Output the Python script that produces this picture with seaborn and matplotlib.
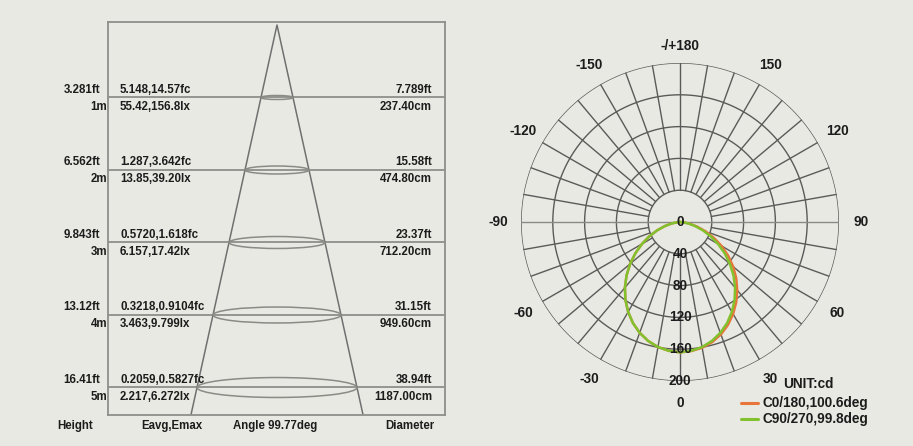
import numpy as np
import pandas as pd
import matplotlib
matplotlib.use("Agg")
import matplotlib.pyplot as plt
import matplotlib.transforms as mtransforms
from matplotlib.patches import Ellipse
import seaborn as sns

# ---------------- data ----------------
heights_m = [1, 2, 3, 4, 5]
height_labels = ["1m", "2m", "3m", "4m", "5m"]
height_ft = ["3.281ft", "6.562ft", "9.843ft", "13.12ft", "16.41ft"]
e_fc = ["5.148,14.57fc", "1.287,3.642fc", "0.5720,1.618fc", "0.3218,0.9104fc", "0.2059,0.5827fc"]
e_lx = ["55.42,156.8lx", "13.85,39.20lx", "6.157,17.42lx", "3.463,9.799lx", "2.217,6.272lx"]
diam_ft = ["7.789ft", "15.58ft", "23.37ft", "31.15ft", "38.94ft"]
diam_cm = [237.40, 474.80, 712.20, 949.60, 1187.00]
beam_angle = 99.77
column_titles = ["Height", "Eavg,Emax", "Angle 99.77deg", "Diameter"]

polar_angles = [-90, -85, -80, -75, -70, -65, -60, -55, -50, -45, -40, -35, -30, -25, -20, -15, -10, -5,
                0, 5, 10, 15, 20, 25, 30, 35, 40, 45, 50, 55, 60, 65, 70, 75, 80, 85, 90]
c0_180 = [0, 3.6, 10.5, 19.7, 30.4, 42.5, 55.2, 68.5, 81.9, 95.1, 107.8, 119.7, 130.5, 140.2, 148.3, 154.9, 159.7, 162.6,
          164, 163.0, 160.6, 156.4, 150.5, 142.8, 133.6, 123.3, 112.0, 100.0, 87.3, 74.0, 60.4, 47.0, 34.0, 22.3, 12.2, 4.2, 0]
c90_270 = [0, 3.6, 10.5, 19.7, 30.4, 42.5, 55.2, 68.5, 81.9, 95.1, 107.8, 119.7, 130.5, 140.2, 148.3, 154.9, 159.7, 162.6,
           164, 162.6, 159.7, 154.9, 148.3, 140.2, 130.5, 119.7, 107.8, 95.1, 81.9, 68.5, 55.2, 42.5, 30.4, 19.7, 10.5, 3.6, 0]
ring_values = [40, 80, 120, 160, 200]
angle_label_values = [0, 30, 60, 90, 120, 150, 180, -150, -120, -90, -60, -30]
angle_label_texts = ["0", "30", "60", "90", "120", "150", "-/+180", "-150", "-120", "-90", "-60", "-30"]
legend_labels = ["C0/180,100.6deg", "C90/270,99.8deg"]
unit_label = "UNIT:cd"

# ---------------- style ----------------
sns.set_theme(style="white")
BG = "#e9e9e4"
plt.rcParams["font.family"] = ["Liberation Sans Narrow", "Liberation Sans", "DejaVu Sans"]
plt.rcParams["axes.facecolor"] = BG
plt.rcParams["figure.facecolor"] = BG
TXT = "#1c1c1c"
LINE = "#8e8e8a"
GRID = "#5a5a58"
ORANGE = "#e8763a"
GREEN = "#82c12e"

W, H = 913, 446
fig = plt.figure(figsize=(W / 100, H / 100), dpi=100)

# ---------------- left panel ----------------
bx0, bx1, by0, by1 = 108, 445, 22, 415
axL = fig.add_axes([bx0 / W, (H - by1) / H, (bx1 - bx0) / W, (by1 - by0) / H])
axL.set_facecolor(BG)
half_d = [d / 200.0 for d in diam_cm]  # half diameter in m
px_per_m_y = 72.5
apex_py = 25
px_per_m_x = 80 / half_d[-1]
apex_px = 277
axL.set_xlim((bx0 - apex_px) / px_per_m_x, (bx1 - apex_px) / px_per_m_x)
y_top = (by0 - apex_py) / px_per_m_y
y_bot = (by1 - apex_py) / px_per_m_y
axL.set_ylim(y_bot, y_top)
axL.set_xticks([]); axL.set_yticks([])
for s in axL.spines.values():
    s.set_color(LINE); s.set_linewidth(1.3); s.set_visible(True)

slope = half_d[-1] / heights_m[-1]
cone = pd.DataFrame({"x": [-slope * y_bot, 0, slope * y_bot], "y": [y_bot, 0, y_bot]})
sns.lineplot(data=cone, x="x", y="y", sort=False, ax=axL, color="#707070", lw=1.1, estimator=None)
axL.set_xlabel(""); axL.set_ylabel("")

for h, hd in zip(heights_m, half_d):
    axL.axhline(h, color=LINE, lw=1.3, zorder=1)
    axL.add_patch(Ellipse((0, h), 2 * hd, 0.055 * h, fill=False, ec="#8a8a86", lw=1.1, zorder=2))

trL = mtransforms.blended_transform_factory(axL.transAxes, axL.transData)
fsL = 8.3
for h, hl, hf, fc, lx, dft, dcm in zip(heights_m, height_labels, height_ft, e_fc, e_lx, diam_ft, diam_cm):
    yu = h - 0.105
    yd = h + 0.125
    kw = dict(transform=trL, fontsize=fsL, color=TXT, va="center", clip_on=False, fontweight="bold")
    axL.text((100 - bx0) / (bx1 - bx0), yu, hf, ha="right", **kw)
    axL.text((107 - bx0) / (bx1 - bx0), yd, hl, ha="right", **kw)
    axL.text((120 - bx0) / (bx1 - bx0), yu, fc, ha="left", **kw)
    axL.text((120 - bx0) / (bx1 - bx0), yd, lx, ha="left", **kw)
    axL.text((432 - bx0) / (bx1 - bx0), yu, dft, ha="right", **kw)
    axL.text((432 - bx0) / (bx1 - bx0), yd, f"{dcm:.2f}cm", ha="right", **kw)

ytitle = (426 - apex_py) / px_per_m_y
for xc, t in zip([75, 172, 275, 410], column_titles):
    axL.text((xc - bx0) / (bx1 - bx0), ytitle, t, transform=trL, ha="center", va="center",
             fontsize=fsL, color=TXT, clip_on=False, fontweight="bold")

# ---------------- polar panel ----------------
cx, cy, R = 680, 222, 159
axP = fig.add_axes([(cx - R) / W, (H - cy - R) / H, 2 * R / W, 2 * R / H], projection="polar")
axP.set_theta_zero_location("S")
axP.set_theta_direction(1)
axP.set_ylim(0, 200)
axP.axis("off")

full = np.linspace(0, 2 * np.pi, 361)
for rv in ring_values:
    axP.plot(full, np.full_like(full, rv), color=GRID, lw=1.0, zorder=2)
for a in range(0, 360, 10):
    if a in (90, 270):
        continue
    t = np.deg2rad(a)
    axP.plot([t, t], [ring_values[0], ring_values[-1]], color=GRID, lw=1.0, zorder=2)
axP.plot([np.deg2rad(-90), np.deg2rad(-90)], [0, 200], color="#8a8a86", lw=1.0, zorder=2)
axP.plot([np.deg2rad(90), np.deg2rad(90)], [0, 200], color="#8a8a86", lw=1.0, zorder=2)

curves = pd.DataFrame({
    "theta": np.deg2rad(polar_angles * 2),
    "r": c0_180 + c90_270,
    "plane": [legend_labels[0]] * len(polar_angles) + [legend_labels[1]] * len(polar_angles),
})
sns.lineplot(data=curves, x="theta", y="r", hue="plane", palette=[ORANGE, GREEN], sort=False,
             estimator=None, lw=1.8, ax=axP, legend=False, zorder=4)

fsP = 9.8
for av, at in zip(angle_label_values, angle_label_texts):
    rr = 222 if av == 180 else 228
    axP.text(np.deg2rad(av), rr, at, ha="center", va="center", fontsize=fsP, color=TXT,
             clip_on=False, fontweight="bold")
axP.text(0, 0, "0", ha="center", va="center", fontsize=fsP, color=TXT, fontweight="bold", zorder=5)
for rv in ring_values:
    axP.text(0, rv, str(rv), ha="center", va="center", fontsize=fsP, color=TXT, fontweight="bold", zorder=5)

# legend
fig.text(783 / W, 1 - 384 / H, unit_label, ha="left", va="center", fontsize=fsP, color=TXT, fontweight="bold")
for i, (lab, col) in enumerate(zip(legend_labels, [ORANGE, GREEN])):
    yy = 1 - (403 + 16 * i) / H
    fig.add_artist(plt.Line2D([741 / W, 758 / W], [yy, yy], color=col, lw=2.2))
    fig.text(762 / W, yy, lab, ha="left", va="center", fontsize=fsP, color=TXT, fontweight="bold")

fig.savefig("out.png", dpi=100, facecolor=BG)
